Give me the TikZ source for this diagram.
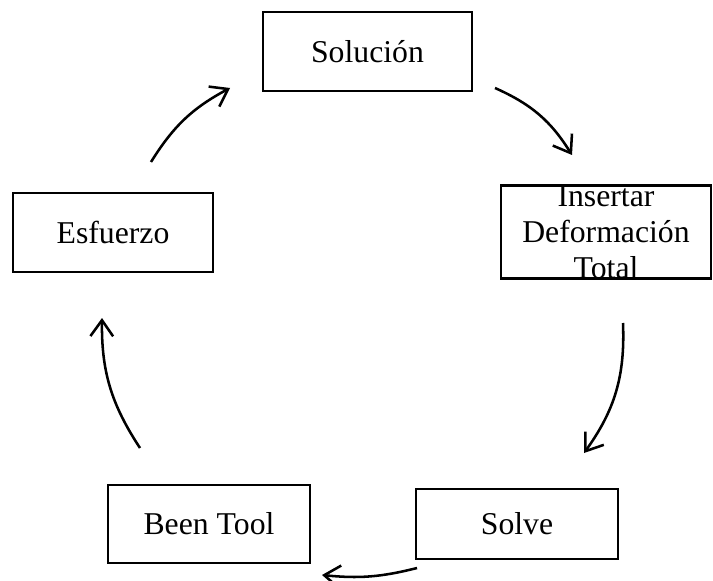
\documentclass[tikz,border=0pt]{standalone}
\usepackage{fontspec}
\setmainfont{Liberation Serif}
\usetikzlibrary{arrows.meta}
\begin{document}
\begin{tikzpicture}[x=0.75pt,y=-0.75pt,
  boxnode/.style={draw=black,line width=1.9pt,inner sep=0pt,align=center,
    font=\fontsize{23.8pt}{27pt}\selectfont},
  cyc/.style={line width=1.9pt,-{Straight Barb[length=12pt,width=17pt,line width=1.9pt]}}]
\useasboundingbox (0,0) rectangle (713,581);
\node[boxnode,minimum width=209*0.75pt,minimum height=79*0.75pt] (sol) at (367.5,51.5) {Solución};
\node[boxnode,minimum width=210*0.75pt,minimum height=92*0.75pt] (ins) at (606,232) {Insertar\\Deformación\\Total};
\node[boxnode,minimum width=202*0.75pt,minimum height=70*0.75pt] (solve) at (517,524) {Solve};
\node[boxnode,minimum width=202*0.75pt,minimum height=78*0.75pt] (been) at (209,524) {Been Tool};
\node[boxnode,minimum width=200*0.75pt,minimum height=79*0.75pt] (esf) at (113,232.5) {Esfuerzo};
\coordinate (a1s) at (151,162); \coordinate (a1e) at (230,88);
\coordinate (a2s) at (495,88);  \coordinate (a2e) at (572,155);
\coordinate (a3s) at (623,323); \coordinate (a3e) at (584,453);
\coordinate (a4s) at (417,568); \coordinate (a4e) at (322,575);
\coordinate (a5s) at (140,448); \coordinate (a5e) at (102,318);
\draw[cyc] (a1s) to[bend left=15] (a1e);
\draw[cyc] (a2s) to[bend left=17] (a2e);
\draw[cyc] (a3s) to[bend left=19] (a3e);
\draw[cyc] (a4s) to[bend left=10] (a4e);
\draw[cyc] (a5s) to[bend left=17] (a5e);
\end{tikzpicture}
\end{document}
